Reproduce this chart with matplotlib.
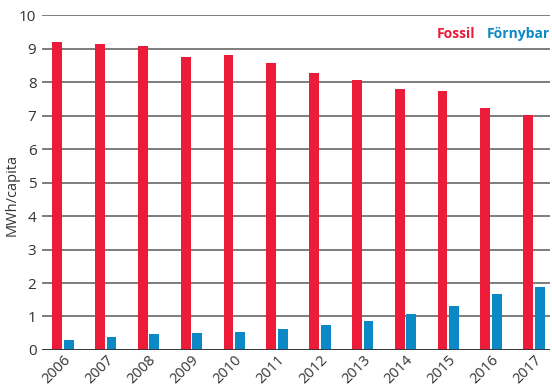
import numpy as np
import matplotlib
matplotlib.use('Agg')
import matplotlib.pyplot as plt

plt.rcParams['font.family'] = ['Open Sans', 'DejaVu Sans']

years = ['2006', '2007', '2008', '2009', '2010', '2011',
         '2012', '2013', '2014', '2015', '2016', '2017']
fossil = [9.19, 9.13, 9.08, 8.76, 8.80, 8.58, 8.28, 8.05, 7.78, 7.72, 7.23, 7.01]
fornybar = [0.30, 0.39, 0.47, 0.50, 0.53, 0.62, 0.75, 0.87, 1.07, 1.32, 1.68, 1.88]

red = '#ED1B3A'
blue = '#0A89C6'

fig = plt.figure(figsize=(5.52, 3.88), dpi=100)
ax = fig.add_axes([0.076, 0.098, 0.92, 0.863])

x = np.arange(len(years))
w = 0.23
ax.bar(x - 0.135, fossil, width=w, color=red, zorder=3)
ax.bar(x + 0.135, fornybar, width=w, color=blue, zorder=3)

ax.set_ylim(0, 10)
ax.set_xlim(-0.49, 11.37)
ax.set_yticks(range(0, 11))
ax.yaxis.grid(True, color='#5a5a5a', lw=1.1, zorder=0)
ax.axhline(0, color='#333333', lw=1.3, zorder=4)
for s in ax.spines.values():
    s.set_visible(False)
ax.tick_params(axis='both', length=0, labelsize=11, colors='#333333')
ax.tick_params(axis='y', pad=4)
ax.set_xticks(x)
ax.set_xticklabels(years, rotation=45, ha='right', rotation_mode='anchor')
ax.tick_params(axis='x', pad=2, labelsize=10.5)

# y label placed by hand so it sits fully inside the figure
fig.text(0.022, 0.497, 'MWh/capita', rotation=90, fontsize=10.5,
         color='#333333', ha='center', va='center')

ax.text(0.853, 0.944, 'Fossil', transform=ax.transAxes, color=red,
        fontsize=10, fontweight='bold', ha='right', va='center')
ax.text(1.0, 0.944, 'Förnybar', transform=ax.transAxes, color=blue,
        fontsize=10, fontweight='bold', ha='right', va='center')

fig.savefig('out.png', dpi=100)
